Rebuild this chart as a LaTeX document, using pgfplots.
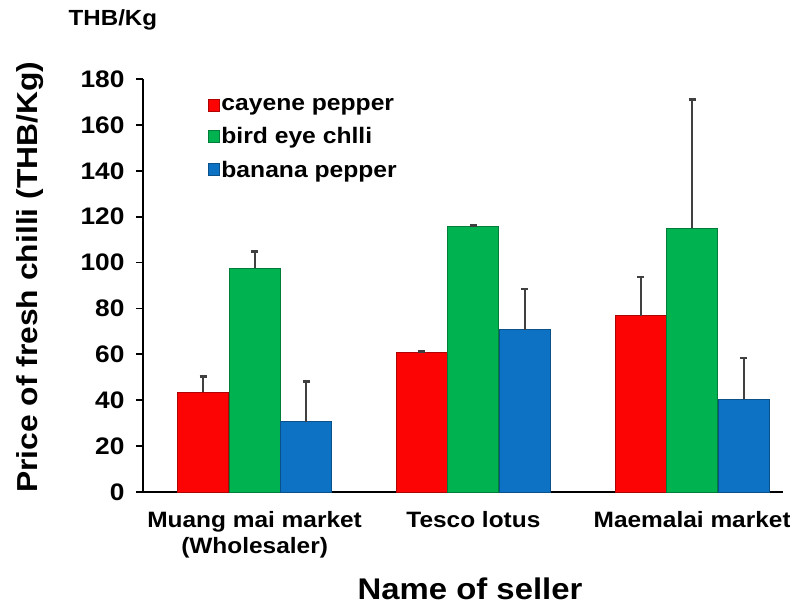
\documentclass[border=0pt]{standalone}
\usepackage{fontspec}
\setmainfont{Liberation Sans}[FakeStretch=1.1]
\usepackage{pgfplots}
\pgfplotsset{compat=1.18}
\definecolor{cred}{RGB}{252,4,4}
\definecolor{cgreen}{RGB}{0,178,80}
\definecolor{cblue}{RGB}{14,114,196}
\definecolor{errc}{RGB}{64,64,64}
\begin{document}
\begin{tikzpicture}
\path[use as bounding box] (0,0) rectangle (790bp,612bp);
\begin{axis}[
  at={(143bp,120bp)}, anchor=south west,
  scale only axis, width=640bp, height=413bp,
  ybar=0.5bp, bar width=51bp,
  xmin=-0.51, xmax=2.415,
  ymin=0, ymax=180,
  ytick={0,20,...,180},
  xtick={0,1,2},
  xticklabels={{Muang mai market\\(Wholesaler)},{Tesco lotus},{Maemalai market}},
  axis lines*=left,
  axis line style={line width=2.4bp, black},
  x axis line style={-},
  y axis line style={-},
  tick style={line width=1.8bp, black},
  major tick length=7bp,
  xtick style={draw=none},
  tick align=outside,
  /pgf/number format/assume math mode=true,
  yticklabel style={font=\bfseries\fontsize{24}{26}\selectfont, xshift=-8bp},
  xticklabel style={font=\bfseries\fontsize{22.3}{26}\selectfont, align=center, anchor=north, yshift=-9bp},
  ylabel={Price of fresh chilli (THB/Kg)},
  ylabel style={font=\bfseries\fontsize{29}{32}\selectfont, at={(axis description cs:-0.177,0.52)}, anchor=center, rotate=0},
  xlabel={Name of seller},
  xlabel style={font=\bfseries\fontsize{30}{32}\selectfont, at={(axis description cs:0.511,-0.235)}, anchor=center},
  legend style={draw=none, fill=none, at={(axis description cs:0.096,0.963)}, anchor=north west,
     font=\bfseries\fontsize{22.5}{26}\selectfont, row sep=11.5bp, legend cell align=left,
     /tikz/every even column/.append style={column sep=9bp}},
  legend image code/.code={\fill[#1] (0bp,-6bp) rectangle (11bp,6bp);},
  error bars/y dir=plus, error bars/y explicit,
  error bars/error bar style={line width=2bp, errc},
  error bars/error mark options={rotate=90, mark size=3.5bp, line width=2.5bp, errc},
  clip=false,
]
\addplot[draw=cred!70!black, line width=0.8bp, fill=cred]
  coordinates {(0,43.4) +- (0,7.0) (1,60.9) +- (0,0.3) (2,76.9) +- (0,16.7)};
\addplot[draw=cgreen!70!black, line width=0.8bp, fill=cgreen]
  coordinates {(0,97.6) +- (0,7.3) (1,115.8) +- (0,0.3) (2,115.0) +- (0,56.0)};
\addplot[draw=cblue!70!black, line width=0.8bp, fill=cblue]
  coordinates {(0,30.7) +- (0,17.4) (1,70.8) +- (0,17.7) (2,40.5) +- (0,18.0)};
\legend{cayene pepper, bird eye chlli, banana pepper}
\node[font=\bfseries\fontsize{22}{24}\selectfont, anchor=center] at (axis description cs:-0.047,1.143) {THB/Kg};
\end{axis}
\end{tikzpicture}
\end{document}
